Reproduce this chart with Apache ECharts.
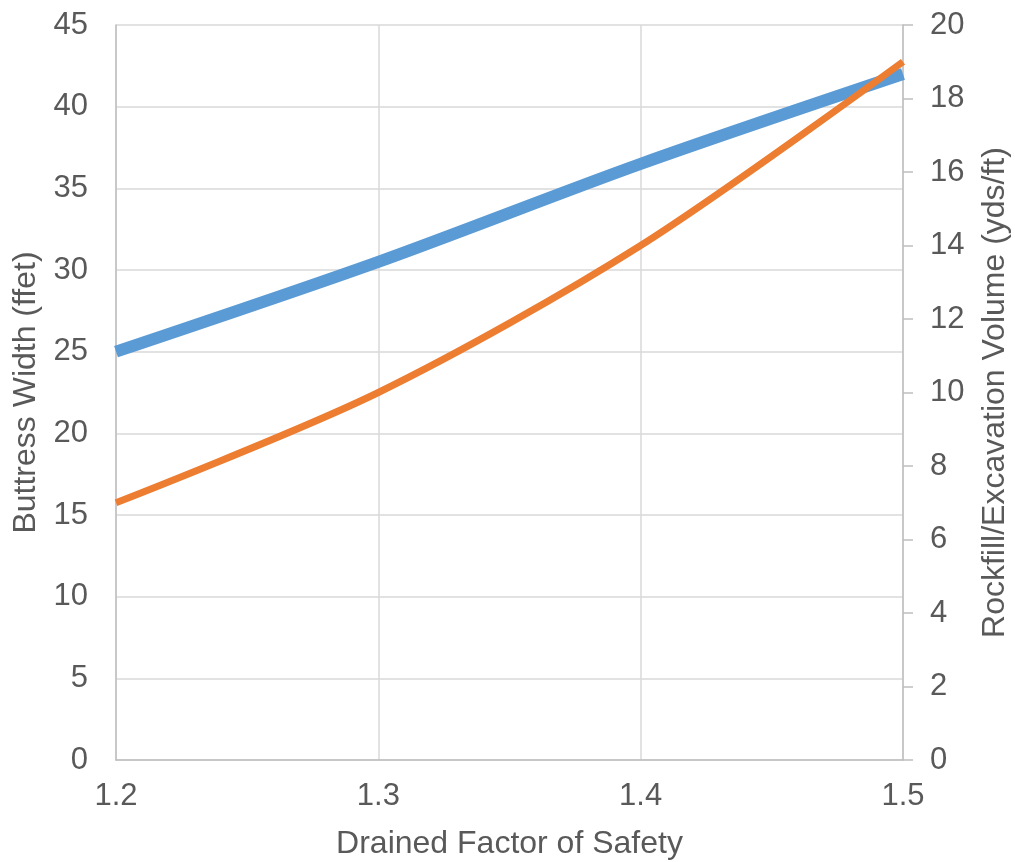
<!DOCTYPE html>
<html>
<head>
<meta charset="utf-8">
<script src="https://cdn.jsdelivr.net/npm/echarts@6/dist/echarts.min.js"></script>
<style>
  html, body { margin: 0; padding: 0; background: #ffffff; }
  #chart { width: 1015px; height: 862px; }
</style>
</head>
<body>
<div id="chart"></div>
<script>
// Drained factor of safety (x) against buttress width and rockfill volume
const factorOfSafety = [1.2, 1.3, 1.4, 1.5];
const buttressWidth = [25, 30.5, 36.5, 42];      // feet, left axis
const rockfillVolume = [7, 10, 14, 19];           // yds/ft, right axis

const leftTicks = { min: 0, max: 45, interval: 5 };
const rightTicks = { min: 0, max: 20, interval: 2 };
const xTicks = { min: 1.2, max: 1.5, interval: 0.1 };

const textColor = '#595959';
const gridColor = '#d9d9d9';
const axisColor = '#bfbfbf';
const fontFamily = '"Liberation Sans", Arial, sans-serif';
const labelSize = 31;
const titleSize = 32;

const chart = echarts.init(document.getElementById('chart'), null, { renderer: 'canvas' });

chart.setOption({
  animation: false,
  backgroundColor: '#ffffff',
  textStyle: { fontFamily: fontFamily },
  grid: {
    left: 116, right: 112, top: 25, bottom: 102,
    containLabel: false,
    outerBoundsMode: 'none'
  },
  xAxis: {
    type: 'value',
    min: xTicks.min,
    max: xTicks.max,
    interval: xTicks.interval,
    name: 'Drained Factor of Safety',
    nameLocation: 'middle',
    nameGap: 68,
    nameTextStyle: { color: textColor, fontSize: titleSize, fontFamily: fontFamily },
    axisLine: { show: true, lineStyle: { color: axisColor, width: 1.5 } },
    axisTick: { show: false },
    axisLabel: {
      color: textColor, fontSize: labelSize, margin: 21, fontFamily: fontFamily,
      formatter: v => v.toFixed(1)
    },
    splitLine: { show: true, lineStyle: { color: gridColor, width: 1.5 } }
  },
  yAxis: [
    {
      type: 'value',
      position: 'left',
      min: leftTicks.min,
      max: leftTicks.max,
      interval: leftTicks.interval,
      name: 'Buttress Width (ffet)',
      nameLocation: 'middle',
      nameRotate: 90,
      nameGap: 72,
      nameTextStyle: { color: textColor, fontSize: titleSize, fontFamily: fontFamily },
      axisLine: { show: true, lineStyle: { color: axisColor, width: 1.5 } },
      axisTick: { show: false },
      axisLabel: { color: textColor, fontSize: labelSize, margin: 28, fontFamily: fontFamily },
      splitLine: { show: true, lineStyle: { color: gridColor, width: 1.5 } }
    },
    {
      type: 'value',
      position: 'right',
      min: rightTicks.min,
      max: rightTicks.max,
      interval: rightTicks.interval,
      name: 'Rockfill/Excavation Volume (yds/ft)',
      nameLocation: 'middle',
      nameRotate: 90,
      nameGap: 76,
      nameTextStyle: { color: textColor, fontSize: titleSize, fontFamily: fontFamily },
      axisLine: { show: true, lineStyle: { color: axisColor, width: 1.5 } },
      axisTick: { show: true, inside: false, length: 10, lineStyle: { color: axisColor, width: 1.5 } },
      axisLabel: { color: textColor, fontSize: labelSize, margin: 27, fontFamily: fontFamily },
      splitLine: { show: false }
    }
  ],
  series: [
    {
      name: 'Buttress Width',
      type: 'line',
      yAxisIndex: 0,
      data: factorOfSafety.map((x, i) => [x, buttressWidth[i]]),
      smooth: 0.3,
      showSymbol: false,
      lineStyle: { color: '#5b9bd5', width: 12, cap: 'butt' },
      z: 2
    },
    {
      name: 'Rockfill/Excavation Volume',
      type: 'line',
      yAxisIndex: 1,
      data: factorOfSafety.map((x, i) => [x, rockfillVolume[i]]),
      smooth: 0.3,
      showSymbol: false,
      lineStyle: { color: '#ed7d31', width: 7, cap: 'butt' },
      z: 3
    }
  ]
});
</script>
</body>
</html>
